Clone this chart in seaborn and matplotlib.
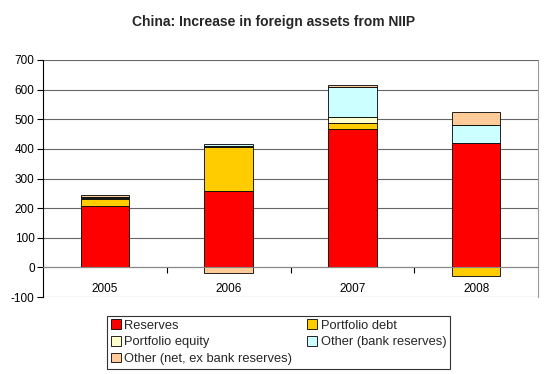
import numpy as np
import pandas as pd
import matplotlib
matplotlib.use("Agg")
import matplotlib.pyplot as plt
import seaborn as sns
from matplotlib.patches import Patch

years = ["2005", "2006", "2007", "2008"]
series_names = ["Reserves", "Portfolio debt", "Portfolio equity",
                "Other (bank reserves)", "Other (net, ex bank reserves)"]
reserves = [206, 258, 468, 420]
portfolio_debt = [25, 148, 20, -30]
portfolio_equity = [2, 3, 20, 0]
other_bank = [6, 8, 102, 62]
other_net = [4, -18, 7, 42]
colors = ["#FF0000", "#FFCC00", "#FFFFCC", "#CCFFFF", "#FFCC99"]
yticks = [-100, 0, 100, 200, 300, 400, 500, 600, 700]

sns.set_theme(style="white")
plt.rcParams["font.family"] = ["Liberation Sans", "DejaVu Sans"]

fig = plt.figure(figsize=(5.47, 3.74), dpi=100)
ax = fig.add_axes([43/547, 1-297/374, 495/547, 237/374])

values = [reserves, portfolio_debt, portfolio_equity, other_bank, other_net]
pos_base = np.zeros(len(years))
neg_base = np.zeros(len(years))
for name, vals, col in zip(series_names, values, colors):
    v = np.array(vals, dtype=float)
    bottom = np.where(v >= 0, pos_base, neg_base)
    df = pd.DataFrame({"year": years, "value": v})
    sns.barplot(data=df, x="year", y="value", order=years, color=col,
                saturation=1, width=0.39, bottom=bottom, edgecolor="black",
                linewidth=0.6, ax=ax, errorbar=None)
    pos_base = pos_base + np.where(v >= 0, v, 0)
    neg_base = neg_base + np.where(v < 0, v, 0)

ax.set_ylim(-100, 700)
ax.set_xlim(-0.5, len(years) - 0.5)
ax.set_yticks(yticks)
ax.set_yticklabels([str(t) for t in yticks])
ax.grid(False)
for t in yticks:
    ax.axhline(t, color="#666666", lw=0.8, zorder=0)
ax.set_axisbelow(True)
ax.set_xlabel("")
ax.set_ylabel("")

ax.spines["left"].set_color("black")
ax.spines["left"].set_linewidth(0.8)
ax.spines["right"].set_color("#999999")
ax.spines["right"].set_linewidth(0.8)
ax.spines["top"].set_visible(False)
ax.spines["bottom"].set_position(("data", 0))
ax.spines["bottom"].set_color("#888888")
ax.spines["bottom"].set_linewidth(0.8)

ax.tick_params(axis="y", which="major", left=True, length=4, width=0.8,
               color="black", labelsize=8.5, pad=2, labelcolor="black")
ax.tick_params(axis="x", which="major", bottom=False, labelsize=8.5, pad=5,
               labelcolor="black")
ax.set_xticks(np.arange(0.5, len(years) - 1, 1.0), minor=True)
ax.tick_params(axis="x", which="minor", bottom=True, length=4, width=0.8,
               color="black", direction="out")

fig.text(0.5, 1 - 22/374, "China: Increase in foreign assets from NIIP",
         ha="center", va="center", fontsize=10, fontweight="bold")

handles = [Patch(facecolor=c, edgecolor="black", linewidth=0.6) for c in colors]
order = [0, 2, 4, 1, 3]
leg = fig.legend([handles[i] for i in order], [series_names[i] for i in order],
                 loc="lower left",
                 bbox_to_anchor=(107/547, 1 - 369/374, (450-107)/547, (369-313)/374),
                 mode="expand", ncol=2, fontsize=9.3, frameon=True,
                 fancybox=False, handlelength=0.75, handleheight=0.75,
                 handletextpad=0.3, borderpad=0.3, labelspacing=0.35,
                 borderaxespad=0, columnspacing=1.0)
leg.get_frame().set_edgecolor("black")
leg.get_frame().set_linewidth(0.8)

fig.savefig("out.png", dpi=100)
